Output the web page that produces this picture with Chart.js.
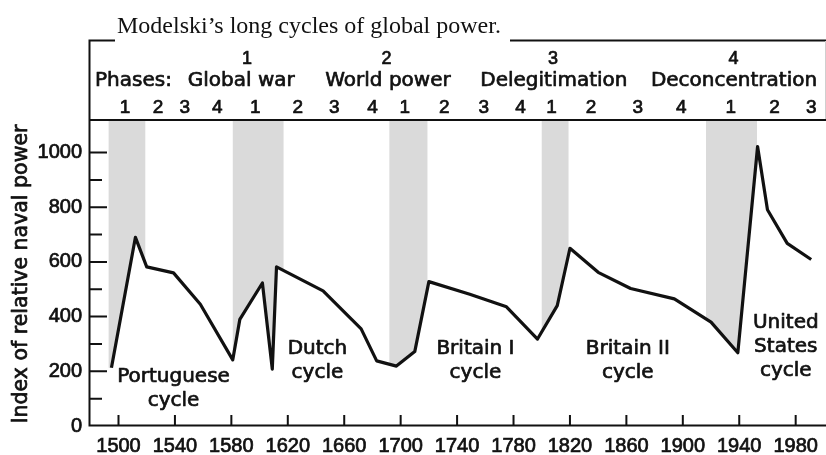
<!DOCTYPE html>
<html><head><meta charset="utf-8">
<script src="https://cdn.jsdelivr.net/npm/chart.js@4/dist/chart.umd.min.js"></script>
<style>html,body{margin:0;padding:0;background:#fff;}#wrap{width:826px;height:455px;}</style>
</head><body><div id="wrap"><canvas id="c" width="826" height="455"></canvas></div>
<script>
// ---- data ----
const years      = [1495,1512,1520,1539,1558,1581,1586,1602,1609,1612,1645,1672,1683,1697,1710,1720,1749,1775,1797,1811,1820,1840,1863,1894,1920,1939,1953,1960,1974,1991];
const navalPower = [ 213, 690, 582, 560, 445, 242, 390, 523, 208, 582, 494, 355, 238, 219, 272, 528, 482, 436, 318, 440, 650, 562, 503, 465, 380, 268,1022, 791, 668, 609];
const xTickYears = [1500,1540,1580,1620,1660,1700,1740,1780,1820,1860,1900,1940,1980];
const yTickValues = [0,200,400,600,800,1000];
const yMinorTicks = [100,300,500,700,900];
const warBandStart = [1493,1581,1692,1800,1916.5];
const warBandEnd   = [1519,1617,1719,1819,1952.5];
const cycleNumbers = ['1','2','3','4'];
const cycleNumberYears = [1591,1690,1808,1936];
const phaseNames = ['Phases:','Global war','World power','Delegitimation','Deconcentration'];
const phaseNameYears = [1510.6,1587,1691,1808.6,1936.3];
const phaseDigits = ['1','2','3','4','1','2','3','4','1','2','3','4','1','2','3','4','1','2','3'];
const phaseDigitYears = [1504.6,1528,1547,1570,1597,1627,1653,1680,1703,1731,1759,1785,1807,1835,1868,1899,1934,1965,1991];
const cycleLabels = [['Portuguese','cycle'],['Dutch','cycle'],['Britain I','cycle'],['Britain II','cycle'],['United','States','cycle']];
const cycleLabelYears = [1539,1641,1753,1861,1973];
const cycleLabelValues = [162,263,263,263,358];
const titleText = 'Modelski\u2019s long cycles of global power.';
const yTitle = 'Index of relative naval power';

const INK = '#111';
const TW = 0.7; // text thickening stroke

function boldText(ctx, t, x, y) {
  ctx.strokeText(t, x, y);
  ctx.fillText(t, x, y);
}

const decor = {
  id: 'decor',
  beforeDatasetsDraw(chart) {
    const {ctx, chartArea: a} = chart;
    const xs = chart.scales.x;
    const pts = chart.getDatasetMeta(0).data;
    warBandStart.forEach((s, i) => {
      const l = xs.getPixelForValue(s), r = xs.getPixelForValue(warBandEnd[i]);
      ctx.save();
      ctx.beginPath(); ctx.rect(l, a.top, r - l, a.bottom - a.top); ctx.clip();
      ctx.beginPath();
      ctx.moveTo(a.left, a.top);
      ctx.lineTo(a.left, pts[0].y);
      pts.forEach(p => ctx.lineTo(p.x, p.y));
      ctx.lineTo(a.right, pts[pts.length - 1].y);
      ctx.lineTo(a.right, a.top);
      ctx.closePath();
      ctx.fillStyle = '#dadada';
      ctx.fill();
      ctx.restore();
    });
  },
  afterDraw(chart) {
    const {ctx, chartArea: a} = chart;
    const xs = chart.scales.x, ys = chart.scales.y;
    ctx.save();
    ctx.strokeStyle = INK; ctx.lineWidth = 2; ctx.lineCap = 'butt';
    // axes and frame
    ctx.beginPath();
    ctx.moveTo(a.left - 0.5, 40); ctx.lineTo(a.left - 0.5, a.bottom - 0.5);
    ctx.lineTo(826, a.bottom - 0.5);
    ctx.moveTo(a.left - 1.5, a.top); ctx.lineTo(826, a.top);
    ctx.moveTo(a.left - 1.5, 40.5); ctx.lineTo(115, 40.5);
    ctx.moveTo(510, 40.5); ctx.lineTo(826, 40.5);
    ctx.stroke();
    ctx.strokeStyle = '#cfcfcf'; ctx.lineWidth = 1;
    ctx.beginPath(); ctx.moveTo(825.5, 41); ctx.lineTo(825.5, a.top - 1); ctx.stroke();
    // ticks (inward)
    ctx.strokeStyle = INK; ctx.lineWidth = 2;
    ctx.beginPath();
    xTickYears.forEach(v => { const x = xs.getPixelForValue(v); ctx.moveTo(x, a.bottom - 0.5); ctx.lineTo(x, a.bottom - 11); });
    yTickValues.forEach(v => { if (v === 0) return; const y = ys.getPixelForValue(v); ctx.moveTo(a.left, y); ctx.lineTo(a.left + 17, y); });
    yMinorTicks.forEach(v => { const y = ys.getPixelForValue(v); ctx.moveTo(a.left, y); ctx.lineTo(a.left + 12, y); });
    ctx.stroke();
    // title
    ctx.fillStyle = INK;
    ctx.font = '24px "Liberation Serif"';
    ctx.textAlign = 'left'; ctx.textBaseline = 'alphabetic';
    ctx.fillText(titleText, 117, 33);
    // thickened sans text
    ctx.lineWidth = TW; ctx.strokeStyle = INK; ctx.lineJoin = 'round';
    // y axis title
    ctx.save();
    ctx.translate(22, (a.top + a.bottom) / 2 + 1);
    ctx.rotate(-Math.PI / 2);
    ctx.textAlign = 'center'; ctx.textBaseline = 'middle';
    ctx.font = '20.5px "DejaVu Sans"';
    boldText(ctx, yTitle, 0, 0);
    ctx.restore();
    // header rows
    ctx.textAlign = 'center'; ctx.textBaseline = 'middle';
    ctx.font = '18px "Liberation Sans"';
    cycleNumbers.forEach((t, i) => boldText(ctx, t, xs.getPixelForValue(cycleNumberYears[i]), 59));
    ctx.font = '20px "DejaVu Sans"';
    phaseNames.forEach((t, i) => boldText(ctx, t, xs.getPixelForValue(phaseNameYears[i]), 81));
    ctx.font = '19px "Liberation Sans"';
    phaseDigits.forEach((t, i) => boldText(ctx, t, xs.getPixelForValue(phaseDigitYears[i]), 108));
    // cycle labels
    ctx.font = '20px "DejaVu Sans"';
    ctx.textBaseline = 'alphabetic';
    cycleLabels.forEach((lines, i) => {
      const x = xs.getPixelForValue(cycleLabelYears[i]);
      const y0 = ys.getPixelForValue(cycleLabelValues[i]);
      lines.forEach((t, j) => boldText(ctx, t, x, y0 + j * 24));
    });
    ctx.restore();
  }
};

new Chart(document.getElementById('c'), {
  type: 'line',
  data: {
    datasets: [{
      data: years.map((x, i) => ({x, y: navalPower[i]})),
      borderColor: INK, borderWidth: 3.2, pointRadius: 0, tension: 0, fill: false,
      borderJoinStyle: 'round'
    }]
  },
  options: {
    responsive: false, animation: false, devicePixelRatio: 1,
    layout: {padding: {top: 120, right: 2, left: 0, bottom: 0}},
    plugins: {legend: {display: false}, tooltip: {enabled: false}},
    scales: {
      x: {
        type: 'linear', min: 1479.8, max: 1999.3,
        afterBuildTicks: s => { s.ticks = xTickYears.map(v => ({value: v})); },
        afterFit: s => { s.height = 29; },
        ticks: {font: {family: 'Liberation Sans', size: 20}, color: INK, padding: 8, maxRotation: 0, autoSkip: false,
                textStrokeColor: INK, textStrokeWidth: TW, callback: v => String(v)},
        grid: {display: false, drawTicks: false}, border: {display: false}
      },
      y: {
        min: 0, max: 1119,
        afterBuildTicks: s => { s.ticks = yTickValues.map(v => ({value: v})); },
        afterFit: s => { s.width = 90; },
        ticks: {font: {family: 'Liberation Sans', size: 20}, color: INK, padding: 8,
                textStrokeColor: INK, textStrokeWidth: TW, callback: v => String(v)},
        grid: {display: false, drawTicks: false}, border: {display: false}
      }
    }
  },
  plugins: [decor]
});
</script>
</body></html>
